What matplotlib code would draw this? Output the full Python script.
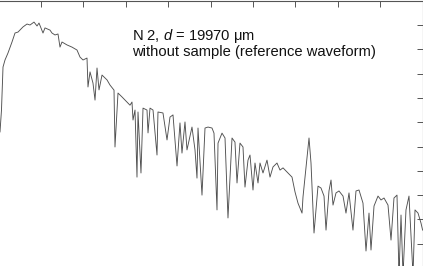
import matplotlib
matplotlib.use("Agg")
import matplotlib.pyplot as plt
import numpy as np

plt.rcParams['font.family'] = ['Liberation Sans', 'DejaVu Sans']
plt.rcParams['mathtext.fontset'] = 'custom'
plt.rcParams['mathtext.rm'] = 'Liberation Sans'
plt.rcParams['mathtext.it'] = 'Liberation Sans:italic'

# frequency (arbitrary units, 1 per tick) and amplitude (dB)
freq = [0.033, 0.068, 0.104, 0.151, 0.222, 0.316, 0.387, 0.458, 0.575, 0.670,
        0.741, 0.835, 0.906, 0.953, 1.047, 1.094, 1.212, 1.259, 1.330, 1.401,
        1.448, 1.495, 1.613, 1.731, 1.849, 1.920, 1.991, 2.085, 2.108, 2.156,
        2.226, 2.274, 2.321, 2.368, 2.439, 2.557, 2.627, 2.722, 2.745, 2.816,
        2.910, 2.981, 3.099, 3.146, 3.170, 3.217, 3.264, 3.288, 3.358, 3.406,
        3.500, 3.524, 3.571, 3.642, 3.736, 3.759, 3.877, 3.972, 4.042, 4.113,
        4.208, 4.278, 4.325, 4.396, 4.443, 4.561, 4.632, 4.679, 4.703, 4.797,
        4.868, 4.939, 5.033, 5.080, 5.151, 5.175, 5.269, 5.340, 5.387, 5.410,
        5.505, 5.575, 5.623, 5.693, 5.764, 5.811, 5.882, 5.929, 6.000, 6.047,
        6.118, 6.165, 6.236, 6.330, 6.401, 6.472, 6.566, 6.637, 6.708, 6.825,
        6.920, 6.991, 7.061, 7.156, 7.179, 7.274, 7.321, 7.368, 7.439, 7.533,
        7.604, 7.675, 7.722, 7.792, 7.840, 7.887, 7.958, 8.028, 8.123, 8.193,
        8.264, 8.358, 8.429, 8.500, 8.594, 8.665, 8.736, 8.783, 8.854, 8.948,
        9.019, 9.090, 9.184, 9.255, 9.325, 9.396, 9.443, 9.491, 9.538, 9.608,
        9.679, 9.774, 9.821, 9.892, 9.962, 10.0]
amp_db = [-54.0, -45.0, -27.3, -24.4, -21.5, -17.0, -13.3, -12.9, -10.8, -9.6,
          -10.0, -8.8, -10.4, -9.2, -13.3, -11.2, -12.1, -13.3, -14.1, -13.7,
          -19.1, -17.0, -18.2, -19.1, -20.3, -23.2, -24.4, -23.6, -35.5, -29.3,
          -33.9, -40.9, -27.7, -36.7, -30.6, -32.6, -34.7, -36.8, -60.2, -38.0,
          -39.6, -40.9, -43.0, -41.7, -49.1, -45.0, -72.6, -45.8, -70.9, -44.2,
          -45.0, -54.4, -44.2, -45.0, -63.5, -45.8, -46.2, -57.3, -47.9, -47.0,
          -68.0, -50.3, -62.7, -49.9, -61.4, -52.0, -61.4, -73.0, -52.4, -80.0,
          -52.4, -52.0, -52.4, -54.5, -86.1, -58.6, -54.5, -56.5, -77.9, -89.4,
          -56.5, -58.2, -75.0, -58.6, -60.2, -76.7, -65.6, -63.5, -77.9, -66.8,
          -75.0, -66.8, -70.9, -65.6, -72.6, -68.4, -66.8, -69.7, -68.8, -70.9,
          -72.6, -78.7, -83.3, -87.4, -80.8, -64.3, -56.5, -66.8, -95.6, -76.3,
          -77.1, -80.4, -94.4, -78.3, -73.8, -84.1, -79.1, -78.3, -80.4, -87.4,
          -79.1, -94.4, -78.3, -77.9, -83.3, -103.0, -87.4, -102.6, -84.5, -80.4,
          -82.0, -81.2, -84.1, -98.5, -81.2, -80.0, -112.9, -88.2, -112.9, -86.1,
          -80.4, -112.9, -86.1, -87.4, -91.5, -94.4]

x_ticks = list(range(0, 11))
y_ticks = list(range(0, -130, -10))

W, H = 423, 266
fig = plt.figure(figsize=(W / 100, H / 100), dpi=100)
# axes extends beyond the visible (cropped) area on the left and bottom
ax_left_px, ax_w_px = -1.4, 424.0
ax_top_px, ax_h_px = 0.7, 291.6
ax = fig.add_axes([ax_left_px / W, 1 - (ax_top_px + ax_h_px) / H,
                   ax_w_px / W, ax_h_px / H])

ax.plot(freq, amp_db, color='#505050', lw=0.65)
ax.set_xlim(0, 10)
ax.set_ylim(-120, 0)
ax.set_xticks(x_ticks)
ax.set_yticks(y_ticks)
ax.tick_params(direction='in', length=4, width=0.7, color='#555555',
               top=True, right=True, bottom=False, left=False,
               labelbottom=False, labelleft=False)
for s in ax.spines.values():
    s.set_color('#555555')
    s.set_linewidth(0.8)

ax.text(3.15, -16.2, 'N 2, $d$ = 19970 μm', fontsize=10.6, color='#111111',
        va='baseline', ha='left')
ax.text(3.15, -22.9, 'without sample (reference waveform)', fontsize=10.6,
        color='#111111', va='baseline', ha='left')

fig.savefig('out.png', dpi=100)
